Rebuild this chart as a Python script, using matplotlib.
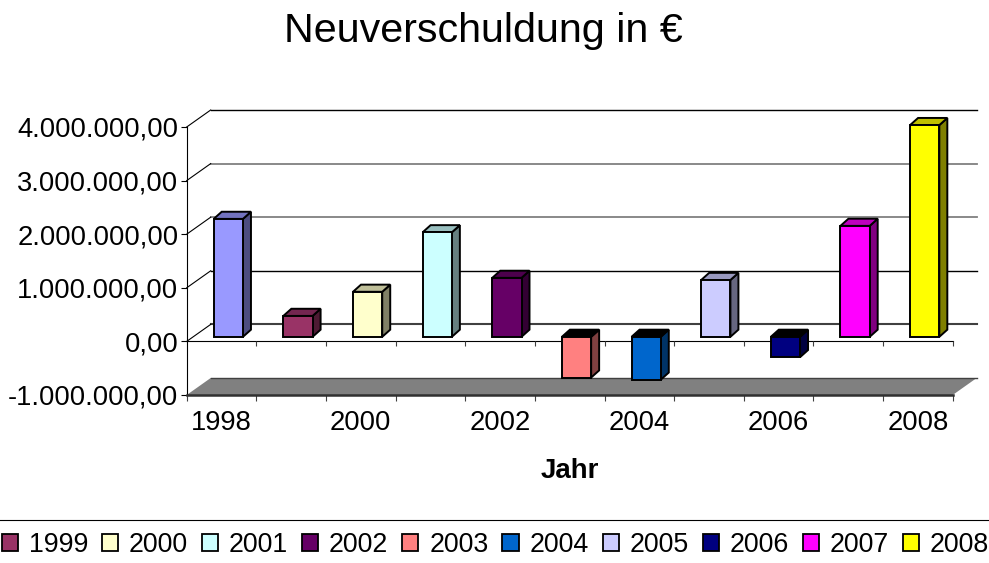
import matplotlib
matplotlib.use("Agg")
import matplotlib.pyplot as plt
from matplotlib.lines import Line2D
from matplotlib.patches import Patch, Polygon

plt.rcParams['font.family'] = ['Liberation Sans', 'DejaVu Sans']

jahre = ['1998', '1999', '2000', '2001', '2002', '2003', '2004', '2005', '2006', '2007', '2008']
werte = [2200000, 390000, 840000, 1950000, 1100000, -760000, -800000, 1060000, -380000, 2070000, 3950000]
front_farben = ['#9999ff', '#993366', '#ffffcc', '#ccffff', '#660066', '#ff8080', '#0066cc', '#ccccff', '#000080', '#ff00ff', '#ffff00']
top_farben = ['#7373bf', '#732650', '#bfbf99', '#99bfbf', '#4d004d', '#000000', '#000000', '#9999bf', '#000000', '#bf00bf', '#bfbf00']
seite_farben = ['#4d4d80', '#4d1a33', '#808066', '#668080', '#330033', '#804040', '#003366', '#666680', '#000040', '#800080', '#808000']
y_ticks = [-1000000, 0, 1000000, 2000000, 3000000, 4000000]
y_labels = ['-1.000.000,00', '0,00', '1.000.000,00', '2.000.000,00', '3.000.000,00', '4.000.000,00']
gitter_farben = ['#000000', '#808080', '#808080', '#000000', '#404040']  # 4M, 3M, 2M, 1M, 0
gitter_breiten = [1.0, 1.3, 1.3, 1.0, 1.5]

# schräge Projektion: Tiefe in Datenkoordinaten
TIEFE_X = 24 / 69.64
TIEFE_Y = 17 / 53.6 * 1000000
SCHRIFT = 19.7


def proj(x, y, t):
    return (x + t * TIEFE_X, y + t * TIEFE_Y)


fig = plt.figure(figsize=(9.89, 5.63), dpi=100)
ax = fig.add_axes([186.7 / 989, (563 - 395) / 563, 766 / 989, 268 / 563])
ax.set_xlim(0, 11)
ax.set_ylim(-1000000, 4000000)
ax.patch.set_visible(False)
for s in ['top', 'right']:
    ax.spines[s].set_visible(False)
ax.spines['left'].set_linewidth(0.8)
ax.spines['bottom'].set_visible(False)

ax.set_yticks(y_ticks)
ax.set_yticklabels(y_labels, fontsize=SCHRIFT)
ax.tick_params(axis='y', length=4, width=0.8, pad=2)
ax.set_xticks(range(12))
ax.set_xticklabels([])
ax.set_xticks([0.5 + i for i in range(0, 11, 2)], jahre[::2], minor=True, fontsize=SCHRIFT)
ax.tick_params(axis='x', which='major', length=4, width=0.8, color='#404040')
ax.tick_params(axis='x', which='minor', length=0, pad=11)

# Rückwand und Seitenlinien
for wert, farbe, breite in zip(y_ticks[:0:-1], gitter_farben, gitter_breiten):
    x0, y0 = proj(0, wert, 1)
    x1, y1 = proj(11, wert, 1)
    ax.plot([x0, x1], [y0, y1], color=farbe, lw=breite, clip_on=False, zorder=1)
    ax.plot([0, x0], [wert, y0], color='black', lw=0.8, clip_on=False, zorder=1)

# Boden
boden = [proj(0, -1000000, 0), proj(11, -1000000, 0), proj(11, -1000000, 1), proj(0, -1000000, 1)]
ax.add_patch(Polygon(boden, closed=True, facecolor='#808080', edgecolor='none', clip_on=False, zorder=2))
ax.plot([0, 11], [-1000000, -1000000], color='#303030', lw=1.8, clip_on=False, zorder=3)
ax.plot([boden[3][0], boden[2][0]], [boden[3][1], boden[2][1]], color='#404040', lw=1.0, clip_on=False, zorder=3)
ax.plot([0, 11], [0, 0], color='black', lw=0.8, clip_on=False, zorder=3)
ax.vlines(range(1, 12), -90000, 0, color='#404040', lw=0.8, zorder=3, clip_on=False)

# Säulen
for i, wert in enumerate(werte):
    links = i + 0.295
    rechts = links + 0.42
    t0, t1 = 0.27, 0.69
    ruck = 0.03  # Säulen sind etwas weniger tief als die Wand
    oben = max(wert, 0)
    unten = min(wert, 0)
    vorne = [proj(links, unten, t0), proj(rechts, unten, t0), proj(rechts, oben, t0), proj(links, oben, t0)]
    seite = [proj(rechts, unten, t0), proj(rechts - ruck, unten, t1), proj(rechts - ruck, oben, t1), proj(rechts, oben, t0)]
    deckel = [proj(links, oben, t0), proj(rechts, oben, t0), proj(rechts - ruck, oben, t1), proj(links - ruck, oben, t1)]
    for pts, farbe in [(seite, seite_farben[i]), (deckel, top_farben[i]), (vorne, front_farben[i])]:
        ax.add_patch(Polygon(pts, closed=True, facecolor=farbe, edgecolor='black', lw=1.4,
                             joinstyle='miter', clip_on=False, zorder=4))

fig.text(483 / 989, 1 - 31 / 563, 'Neuverschuldung in €', fontsize=29.7, ha='center', va='center')
fig.text(570 / 989, 1 - 471.5 / 563, 'Jahr', fontsize=20, fontweight='bold', ha='center', va='center')

# Legende
fig.add_artist(Line2D([0, 1], [1 - 520 / 563, 1 - 520 / 563], color='black', lw=0.8))
griffe = [Patch(facecolor=front_farben[i], edgecolor='black', lw=1.3) for i in range(1, 11)]
fig.legend(griffe, jahre[1:], ncol=10, frameon=False, loc='center left',
           bbox_to_anchor=(0.002, 1 - 544.5 / 563), fontsize=19.3, borderaxespad=0, borderpad=0,
           handlelength=0.6, handleheight=0.6, handletextpad=0.4, columnspacing=0.525)

plt.savefig('out.png', dpi=100)
